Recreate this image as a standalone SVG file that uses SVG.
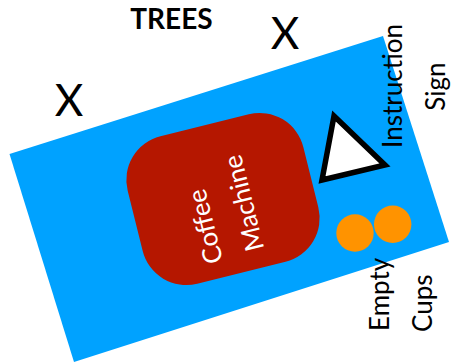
<svg xmlns="http://www.w3.org/2000/svg" width="459" height="364" viewBox="0 0 459 364">
<style>
.lbl{font-family:Lato,"Open Sans","DejaVu Sans",sans-serif;font-size:26px;fill:#000}
.w{fill:#fff}
.x{font-family:Lato,"Open Sans","DejaVu Sans",sans-serif;font-size:44px;fill:#000;text-anchor:middle}
</style>
<rect width="459" height="364" fill="#fff"/>
<g id="table"><polygon points="9.5,154 383,36 449,242 74,362" fill="#00a2ff"/></g>
<g id="coffee-machine">
<rect x="132.5" y="123" width="181" height="152" rx="45" ry="45" fill="#b51700" transform="rotate(-14 223 199)"/>
<text class="lbl w" text-anchor="middle" transform="translate(214,224.5) rotate(-104)">Coffee</text>
<text class="lbl w" text-anchor="middle" transform="translate(252.5,201) rotate(-104)">Machine</text>
</g>
<g id="instruction-sign">
<polygon points="334,116 385,165 322,180" fill="#fff" stroke="#000" stroke-width="5.5" stroke-linejoin="miter"/>
<text class="lbl" text-anchor="middle" transform="translate(401.7,86) rotate(-90)">Instruction</text>
<text class="lbl" text-anchor="middle" transform="translate(445,86.5) rotate(-90)">Sign</text>
</g>
<g id="empty-cups">
<circle cx="355" cy="233" r="18.7" fill="#ff9300"/>
<circle cx="392.7" cy="224.3" r="18.7" fill="#ff9300"/>
<text class="lbl" text-anchor="start" transform="translate(389,331) rotate(-90)">Empty</text>
<text class="lbl" text-anchor="start" transform="translate(432,332) rotate(-90)">Cups</text>
</g>
<g id="trees">
<text x="171.5" y="29" style="font-family:Lato,'Open Sans','DejaVu Sans',sans-serif;font-size:28px;font-weight:bold;text-anchor:middle">TREES</text>
<text class="x" x="69" y="116">X</text>
<text class="x" x="285" y="49">X</text>
</g>
</svg>
